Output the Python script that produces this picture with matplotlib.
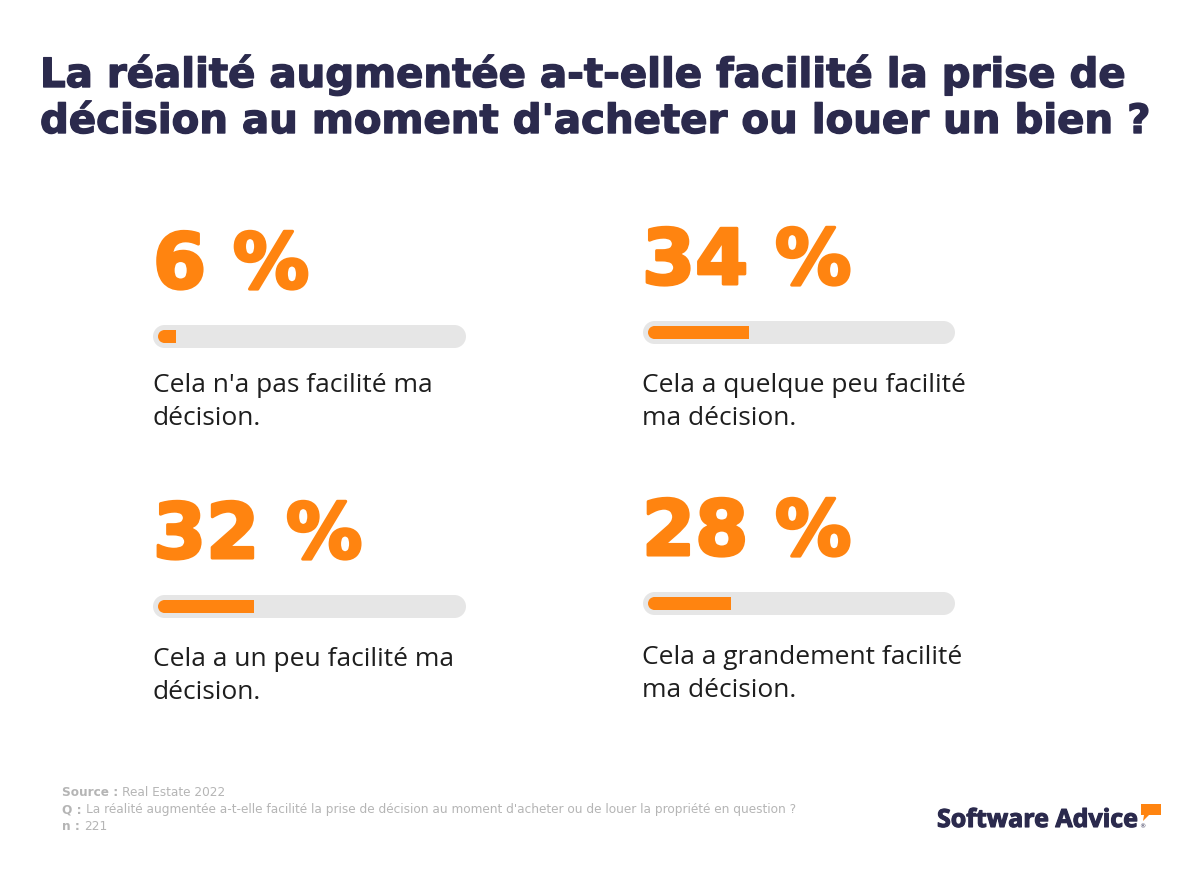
import matplotlib
matplotlib.use("Agg")
import matplotlib.pyplot as plt
import matplotlib.patheffects as pe
from matplotlib.patches import Polygon

###############################################################################
# data
###############################################################################
title = "La réalité augmentée a-t-elle facilité la prise de\ndécision au moment d'acheter ou louer un bien ?"
pcts = [6, 34, 32, 28]
answers = ["Cela n'a pas facilité ma\ndécision.",
           "Cela a quelque peu facilité\nma décision.",
           "Cela a un peu facilité ma\ndécision.",
           "Cela a grandement facilité\nma décision."]
source = "Real Estate 2022"
question = "La réalité augmentée a-t-elle facilité la prise de décision au moment d'acheter ou de louer la propriété en question ?"
n_resp = "221"

# layout (pixels): x left, number baseline, bar centre, label first baseline
panels = [(153, 288, 336, 392),
          (642, 284, 332, 392),
          (153, 558, 606, 666),
          (642, 555, 603, 664)]

W, H = 1200, 890
ORANGE = "#ff8410"
NAVY = "#2b2a4d"
TRACK = "#e6e6e6"

def fx(x):
    return x / W
def fy(y):
    return 1 - y / H

def thick(color, w):
    return [pe.Stroke(linewidth=w, foreground=color), pe.Normal()]

fig = plt.figure(figsize=(12, 8.9), dpi=100)
fig.patch.set_facecolor("white")

for i, ln in enumerate(title.split("\n")):
    fig.text(fx(40), fy(87 + 46 * i), ln, ha="left", va="baseline",
             fontsize=29, fontweight="bold", family="DejaVu Sans", color=NAVY,
             path_effects=thick(NAVY, 1.0))

for (x0, ybase, yc, ylab), v, lab in zip(panels, pcts, answers):
    fig.text(fx(x0), fy(ybase), f"{v} %", ha="left", va="baseline",
             fontsize=55, fontweight="bold", family="DejaVu Sans", color=ORANGE,
             path_effects=thick(ORANGE, 2.2))
    # bar: 0-100 % mapped to 300 px starting 5 px inside the track
    ax = fig.add_axes([fx(x0 + 5), fy(yc + 12), 300 / W, 24 / H])
    ax.set_xlim(0, 100)
    ax.set_ylim(-1, 1)
    ax.axis("off")
    cap = 6.5 / 3.0                  # orange rounded end radius, in %
    tl = (11.5 - 5) / 3.0            # track left cap centre
    tr = (312 - 11.5 - 5) / 3.0      # track right cap centre
    ax.barh(0, tr - tl, left=tl, height=23 / 12, color=TRACK,
            linewidth=0, clip_on=False, zorder=1)
    ax.plot([tl, tr], [0, 0], "o", ms=16.56, color=TRACK, mew=0,
            clip_on=False, zorder=1.5)
    ax.barh(0, v - cap, left=cap, height=13 / 12, color=ORANGE,
            linewidth=0, clip_on=False, zorder=3)
    ax.plot([cap], [0], "o", ms=9.36, color=ORANGE, mew=0,
            clip_on=False, zorder=3.5)
    for i, ln in enumerate(lab.split("\n")):
        fig.text(fx(x0), fy(ylab + 33 * i), ln, ha="left", va="baseline",
                 fontsize=19, family=["Open Sans", "DejaVu Sans"], color="#1e1e1e")

# footer
foot = [("Source : ", source, 793), ("Q : ", question, 810), ("n : ", n_resp, 827)]
for head, body, y in foot:
    t = fig.text(fx(62), fy(y), head, ha="left", va="center", fontsize=8.7,
                 fontweight="bold", family=["Liberation Sans Narrow", "DejaVu Sans"],
                 color="#b5b5b5")
    fig.canvas.draw()
    bb = t.get_window_extent()
    fig.text(bb.x1 / W, fy(y), body, ha="left", va="center", fontsize=8.7,
             family=["Liberation Sans Narrow", "DejaVu Sans"], color="#b5b5b5")

# logo
fig.text(fx(937), fy(827), "Software Advice", ha="left", va="baseline",
         fontsize=18, fontweight="bold", family=["Open Sans", "DejaVu Sans"],
         color=NAVY, path_effects=thick(NAVY, 0.8))
fig.text(fx(1139), fy(828), "®", ha="left", va="baseline", fontsize=4.5,
         color=NAVY)
bubble = [(1141, 804), (1161, 804), (1161, 815), (1149, 815), (1143, 821), (1144, 815), (1141, 815)]
fig.patches.append(Polygon([(fx(a), fy(b)) for a, b in bubble], closed=True,
                           transform=fig.transFigure, color=ORANGE, lw=0))

fig.savefig("out.png", dpi=100, facecolor="white")
